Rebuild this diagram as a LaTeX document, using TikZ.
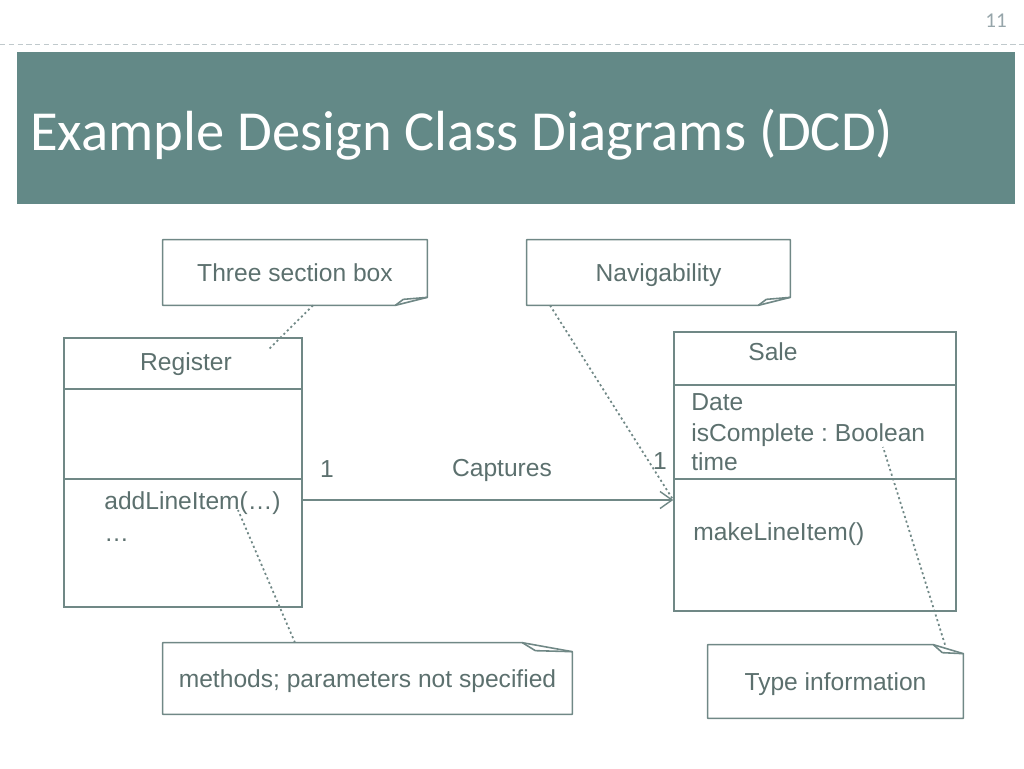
\documentclass[tikz,border=0pt]{standalone}
\usepackage{fontspec}
\setmainfont{Liberation Sans}
\newfontfamily\titlefont{Carlito}
\usetikzlibrary{arrows.meta}
\frenchspacing
\definecolor{barteal}{RGB}{99,137,135}
\definecolor{umlline}{RGB}{112,136,134}
\definecolor{umltext}{RGB}{92,112,110}
\definecolor{pagegray}{RGB}{150,165,170}
\tikzstyle{classbox} = [rectangle, draw=umlline, line width=0.9pt, inner sep=0pt]
\tikzstyle{notebox} = [rectangle, inner sep=0pt, text height=10pt, text depth=0pt, font=\fontsize{14}{16}\selectfont, text=umltext]
\tikzstyle{noteline} = [draw=umlline, line width=0.9pt, line join=round]
\tikzstyle{member} = [anchor=base west, inner sep=0pt, font=\fontsize{14}{16}\selectfont, text=umltext]
\tikzstyle{notelink} = [draw=umlline, dash pattern=on 1.2pt off 1.6pt, line width=1pt]
\tikzstyle{assoc} = [draw=umlline, line width=0.8pt, -{Straight Barb[length=0.24cm, width=0.34cm]}]

\begin{document}
\begin{tikzpicture}[x=0.02cm, y=-0.02cm]
\useasboundingbox (0,0) rectangle (1024,768);

\node (pagenum)	[anchor=base, text=pagegray, font=\titlefont\fontsize{12}{14}\selectfont] at (996,27) {11};
\draw [pagegray!60, densely dashed, line width=0.5pt] (0,44) -- (1024,44);
\node (bar)		[rectangle, fill=barteal, minimum width=19.96cm, minimum height=3.04cm, inner sep=0pt] at (516,128) {};
\node (title)	[anchor=base west, inner sep=0pt, text=white, font=\titlefont\fontsize{32.2}{38}\selectfont] at (30,150) {Example Design Class Diagrams (DCD)};

\node (register)	[classbox, minimum width=4.76cm, minimum height=5.38cm] at (183,472.5) {};
\draw [umlline, line width=0.9pt] (register.west |- 0,389) -- (register.east |- 0,389);
\draw [umlline, line width=0.9pt] (register.west |- 0,479) -- (register.east |- 0,479);
\node (regname)	[member, anchor=base] at (186,370) {Register};
\node (regop1)	[member] at (104,509) {addLineItem(\ldots)};
\node (regop2)	[member] at (104,541) {\ldots};

\node (sale)		[classbox, minimum width=5.64cm, minimum height=5.58cm] at (815,471.5) {};
\draw [umlline, line width=0.9pt] (sale.west |- 0,385) -- (sale.east |- 0,385);
\draw [umlline, line width=0.9pt] (sale.west |- 0,479) -- (sale.east |- 0,479);
\node (salename)	[member, anchor=base] at (773,360) {Sale};
\node (saleat1)	[member] at (691,410) {Date};
\node (saleat2)	[member] at (691,441) {isComplete : Boolean};
\node (saleat3)	[member] at (691,470) {time};
\node (saleop1)	[member] at (693,540) {makeLineItem()};

\draw [assoc] (register.east |- 0,500) -- (sale.west |- 0,500) coordinate (arrowtip);
\node (multreg)	[member, anchor=base] at (327,477) {1};
\node (captures)	[member, anchor=base] at (502,476) {Captures};
\node (multsale)	[member, anchor=base] at (660,469) {1};

\node (three)	[notebox, minimum width=5.28cm, minimum height=1.3cm] at (295,272.5) {Three section box};
\draw [noteline] (three.north west) -- (three.north east) -- ([yshift=0.16cm]three.south east) -- ([xshift=-0.64cm]three.south east) -- (three.south west) -- cycle;
\draw [noteline] ([xshift=-0.64cm]three.south east) -- ([xshift=-0.48cm, yshift=0.12cm]three.south east) -- ([yshift=0.16cm]three.south east);

\node (navig)	[notebox, minimum width=5.26cm, minimum height=1.3cm] at (658.5,272.5) {Navigability};
\draw [noteline] (navig.north west) -- (navig.north east) -- ([yshift=0.16cm]navig.south east) -- ([xshift=-0.64cm]navig.south east) -- (navig.south west) -- cycle;
\draw [noteline] ([xshift=-0.64cm]navig.south east) -- ([xshift=-0.48cm, yshift=0.12cm]navig.south east) -- ([yshift=0.16cm]navig.south east);

\node (methods)	[notebox, minimum width=8.18cm, minimum height=1.42cm] at (367.5,678.5) {methods; parameters not specified};
\draw [noteline] (methods.north west) -- ([xshift=-1cm]methods.north east) -- ([yshift=-0.18cm]methods.north east) -- (methods.south east) -- (methods.south west) -- cycle;
\draw [noteline] ([xshift=-1cm]methods.north east) -- ([xshift=-0.74cm, yshift=-0.16cm]methods.north east) -- ([yshift=-0.18cm]methods.north east);

\node (typeinfo)	[notebox, minimum width=5.1cm, minimum height=1.46cm, text depth=-6pt] at (835.5,681.5) {Type information};
\draw [noteline] (typeinfo.north west) -- ([xshift=-0.6cm]typeinfo.north east) -- ([yshift=-0.18cm]typeinfo.north east) -- (typeinfo.south east) -- (typeinfo.south west) -- cycle;
\draw [noteline] ([xshift=-0.6cm]typeinfo.north east) -- ([xshift=-0.42cm, yshift=-0.16cm]typeinfo.north east) -- ([yshift=-0.18cm]typeinfo.north east);

\coordinate (regcorner) at (268,350);
\coordinate (opmark) at (238,510);
\coordinate (boolmark) at (883,447);
\draw [notelink] (three.south -| 313,0) -- (regcorner);
\draw [notelink] (navig.south -| 550,0) -- (arrowtip);
\draw [notelink] (methods.north -| 295,0) -- (opmark);
\draw [notelink] (typeinfo.north -| 945,0) -- (boolmark);

\end{tikzpicture}
\end{document}
